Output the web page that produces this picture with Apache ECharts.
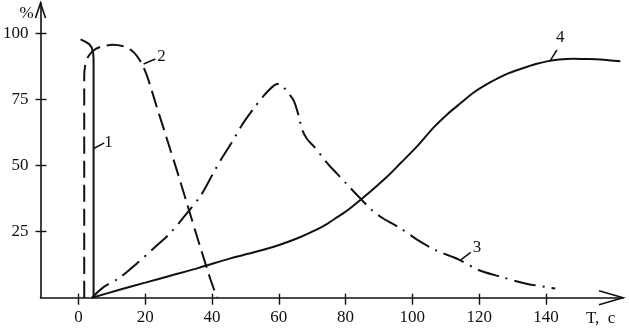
<!DOCTYPE html>
<html>
<head>
<meta charset="utf-8">
<script src="https://cdn.jsdelivr.net/npm/echarts@6/dist/echarts.min.js"></script>
<style>
  html, body { margin: 0; padding: 0; background: #fff; }
  #chart { width: 629px; height: 330px; }
</style>
</head>
<body>
<div id="chart"></div>
<script>
// axis ticks
const xTicks = [0, 20, 40, 60, 80, 100, 120, 140]
const yTicks = [25, 50, 75, 100]
const xMin = -11.4
const xMax = 163.1
const yMax = 111.6

// curves: [T, %]
const curve1 = [[4.5, 0], [4.5, 90], [4.4, 92.5], [4.0, 94.6], [3.2, 96], [2.0, 97], [0.6, 97.8]]
const curve2 = [
  [1.7, 0], [1.7, 84], [2.0, 88], [2.7, 90.8], [3.8, 92.8], [5.3, 94.3], [7.1, 95.2], [10, 95.8],
  [13.6, 95.2], [16, 93.5], [17.5, 91.5], [19, 88.5], [20.6, 83.7], [23.5, 72], [26.5, 60],
  [30, 46], [33, 33.5], [36.5, 19], [39.5, 7], [41.5, 0],
]
const curve3 = [
  [4, 0], [7.5, 4], [12, 7.3], [17.5, 13], [23, 19.3], [27.5, 24.5], [31.5, 30.5], [36.5, 38.5],
  [40.5, 47.5], [43, 53], [46, 59], [49, 65.5], [52.5, 71.7], [55.5, 76.5], [58.5, 80.3], [60, 81],
  [61.5, 79.6], [63, 77.3], [64.5, 74.5], [66, 68.6], [67, 63.5], [68.5, 60], [70.5, 57.3],
  [74.5, 51], [77.4, 47], [80, 43.5], [84.4, 37.6], [88, 33], [91.3, 30], [96.4, 26.3],
  [101.4, 22], [107, 18], [113.8, 14.5], [119.8, 10.5], [126.3, 8], [133.8, 5.4], [142.8, 3.5],
]
const curve4 = [
  [4, 0], [12, 2.9], [20, 5.7], [28, 8.5], [36, 11.3], [45.5, 14.9], [52, 17], [58.5, 19.3],
  [62, 20.8], [66.5, 23], [70, 25], [74.5, 28], [77.5, 30.5], [80.5, 33], [85.4, 38], [92.4, 45.8],
  [96.5, 51], [101.4, 57.3], [106.4, 64.5], [110.5, 69.5], [114.4, 73.6], [118.5, 77.8],
  [123.4, 81.6], [128, 84.6], [133.3, 87], [137, 88.5], [140.3, 89.5], [144, 90.2], [148.2, 90.5],
  [152, 90.4], [156.3, 90.2], [162.3, 89.5],
]

// leader lines for the curve numbers
const lead1 = [[4.6, 56.5], [7.7, 58.6]]
const lead2 = [[19.5, 88.5], [23, 90.4]]
const lead3 = [[114.5, 14.3], [117.5, 17.2]]
const lead4 = [[141.3, 89.8], [143.3, 93.8]]

const ink = '#111'
const font = 'Liberation Serif'

const chart = echarts.init(document.getElementById('chart'))

function curve(data, type, smooth) {
  return {
    type: 'line',
    data,
    symbol: 'none',
    smooth,
    silent: true,
    lineStyle: { color: ink, width: 2, type },
  }
}

function leader(name, data, offset) {
  return {
    type: 'line',
    name,
    data,
    symbol: 'none',
    silent: true,
    lineStyle: { color: ink, width: 1.5 },
    endLabel: {
      show: true,
      formatter: name,
      distance: 2,
      offset,
      color: ink,
      fontFamily: font,
      fontSize: 17,
    },
  }
}

const axisBase = {
  type: 'value',
  splitLine: { show: false },
}

chart.setOption({
  animation: false,
  grid: { left: 40, right: 6, top: 3, bottom: 32.3 },
  xAxis: [
    {
      ...axisBase,
      min: xMin,
      max: xMax,
      axisLine: { onZero: false, lineStyle: { color: ink, width: 1.6 } },
      axisTick: { show: true, customValues: xTicks, length: 7, lineStyle: { color: ink, width: 1.4 } },
      axisLabel: { customValues: xTicks, color: ink, fontFamily: font, fontSize: 17, margin: 11 },
    },
    {
      ...axisBase,
      position: 'bottom',
      min: xMin,
      max: xMax,
      axisLine: { show: false, onZero: false },
      axisTick: { show: true, inside: true, customValues: xTicks, length: 4, lineStyle: { color: ink, width: 1.4 } },
      axisLabel: { show: false },
    },
  ],
  yAxis: [
    {
      ...axisBase,
      min: 0,
      max: yMax,
      axisLine: { show: true, onZero: false, lineStyle: { color: ink, width: 1.6 } },
      axisTick: { show: true, customValues: yTicks, length: 5, lineStyle: { color: ink, width: 1.4 } },
      axisLabel: { customValues: yTicks, color: ink, fontFamily: font, fontSize: 17, margin: 12 },
    },
    {
      ...axisBase,
      position: 'left',
      min: 0,
      max: yMax,
      axisLine: { show: false, onZero: false },
      axisTick: { show: true, inside: true, customValues: yTicks, length: 6, lineStyle: { color: ink, width: 1.4 } },
      axisLabel: { show: false },
    },
  ],
  series: [
    curve(curve1, 'solid', false),
    curve(curve2, [17, 7], 0.2),
    curve(curve3, [22, 7, 2, 7], 0.3),
    curve(curve4, 'solid', 0.3),
    leader('1', lead1, [-2, 0]),
    leader('2', lead2, [0, -2]),
    leader('3', lead3, [0, -5]),
    leader('4', lead4, [-3, -12]),
  ],
})

// open arrow heads at the axis ends, plus axis names
const xEnd = chart.convertToPixel({ gridIndex: 0 }, [xMax, 0])
const yEnd = chart.convertToPixel({ gridIndex: 0 }, [xMin, yMax])
const arrowStyle = { stroke: ink, lineWidth: 1.6, fill: null }

chart.setOption({
  graphic: [
    {
      type: 'polyline',
      shape: { points: [[xEnd[0] - 24, xEnd[1] - 7], xEnd, [xEnd[0] - 24, xEnd[1] + 7]] },
      style: arrowStyle,
    },
    {
      type: 'polyline',
      shape: { points: [[yEnd[0] - 5, yEnd[1] + 15], yEnd, [yEnd[0] + 5, yEnd[1] + 15]] },
      style: arrowStyle,
    },
    {
      type: 'text',
      x: yEnd[0] - 21,
      y: yEnd[1] + 2,
      style: { text: '%', fill: ink, font: '17px "Liberation Serif"' },
    },
    {
      type: 'text',
      x: xEnd[0] - 37,
      y: xEnd[1] + 12,
      style: { text: 'T,  c', fill: ink, font: '17px "Liberation Serif"' },
    },
  ],
})
</script>
</body>
</html>
